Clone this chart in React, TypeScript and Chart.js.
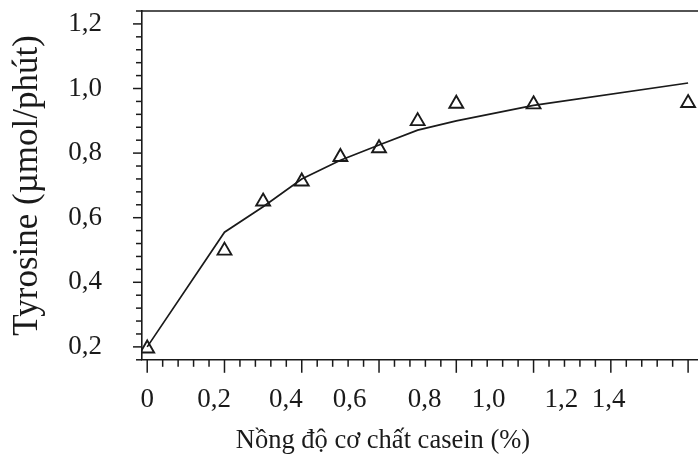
import React, { useEffect, useRef } from 'react';
import { Chart, registerables } from 'chart.js';

Chart.register(...registerables);

// ---- data ----
const concentration = [0, 0.2, 0.3, 0.4, 0.5, 0.6, 0.7, 0.8, 1.0, 1.4];
const measuredTyrosine = [0.195, 0.498, 0.65, 0.712, 0.788, 0.815, 0.899, 0.953, 0.951, 0.955];
const fittedTyrosine = [0.2, 0.555, 0.634, 0.72, 0.778, 0.825, 0.871, 0.9, 0.948, 1.017];

const yTickValues = [0.2, 0.4, 0.6, 0.8, 1.0, 1.2];
const yTickLabels = ['0,2', '0,4', '0,6', '0,8', '1,0', '1,2'];
const xTickLabels = ['0', '0,2', '0,4', '0,6', '0,8', '1,0', '1,2', '1,4'];
const xTickLabelPositions = [0, 0.173, 0.359, 0.524, 0.718, 0.884, 1.072, 1.194];

const xTitle = 'Nồng độ cơ chất casein (%)';
const yTitle = 'Tyrosine (µmol/phút)';

const X_MIN = -0.0135;
const X_MAX = 1.576;
const Y_MIN = 0.16;
const Y_MAX = 1.24;
const MINOR_STEP = 0.04;
const MAJOR_STEP = 0.2;

const INK = '#1a1a1a';
const FONT = "'Liberation Serif', 'Times New Roman', serif";

const frameTicks = {
  id: 'frameTicks',
  afterDraw(chart: any) {
    const { ctx, chartArea, scales } = chart;
    const x = scales.x;
    const y = scales.y;
    ctx.save();
    ctx.strokeStyle = INK;
    ctx.lineWidth = 1.6;
    ctx.beginPath();
    ctx.moveTo(chartArea.left - 1, chartArea.top);
    ctx.lineTo(chartArea.right, chartArea.top);
    ctx.stroke();
    ctx.lineWidth = 1.5;
    const isMajor = (v: number) => Math.abs(v / MAJOR_STEP - Math.round(v / MAJOR_STEP)) < 1e-6;
    const nY = Math.round((Y_MAX - Y_MIN) / MINOR_STEP);
    for (let i = 0; i <= nY; i++) {
      const v = Y_MIN + i * MINOR_STEP;
      const py = y.getPixelForValue(v);
      const len = isMajor(v) ? 9 : 6;
      ctx.beginPath();
      ctx.moveTo(chartArea.left - len, py);
      ctx.lineTo(chartArea.left, py);
      ctx.stroke();
    }
    const nX = Math.floor((X_MAX - 0) / MINOR_STEP);
    for (let i = 0; i <= nX; i++) {
      const v = i * MINOR_STEP;
      const px = x.getPixelForValue(v);
      const len = isMajor(v) ? 13 : 7;
      ctx.beginPath();
      ctx.moveTo(px, chartArea.bottom);
      ctx.lineTo(px, chartArea.bottom + len);
      ctx.stroke();
    }
    ctx.restore();
  },
};

export default function App() {
  const canvasRef = useRef<HTMLCanvasElement | null>(null);

  useEffect(() => {
    const canvas = canvasRef.current;
    if (!canvas) return;
    const chart = new Chart(canvas, {
      type: 'scatter',
      data: {
        datasets: [
          {
            type: 'line',
            label: 'fit',
            data: concentration.map((c, i) => ({ x: c, y: fittedTyrosine[i] })),
            borderColor: INK,
            borderWidth: 1.7,
            pointRadius: 0,
            tension: 0,
            fill: false,
          },
          {
            type: 'scatter',
            label: 'measured',
            data: concentration.map((c, i) => ({ x: c, y: measuredTyrosine[i] })),
            pointStyle: 'triangle',
            pointRadius: 8,
            pointBorderWidth: 1.9,
            pointBorderColor: INK,
            pointBackgroundColor: 'rgba(0,0,0,0)',
            borderColor: INK,
            backgroundColor: 'rgba(0,0,0,0)',
          },
        ],
      },
      options: {
        animation: false,
        responsive: false,
        devicePixelRatio: 1,
        layout: { padding: { top: 11, left: 0, right: 0, bottom: 0 } },
        plugins: {
          legend: { display: false },
          tooltip: { enabled: false },
          title: {
            display: true,
            position: 'bottom',
            text: xTitle,
            color: INK,
            font: { family: FONT, size: 26.5, weight: 'normal' },
            padding: { top: 0, bottom: 5 },
          },
        },
        scales: {
          x: {
            type: 'linear',
            min: X_MIN,
            max: X_MAX,
            grid: { display: false, drawTicks: false },
            border: { display: true, color: INK, width: 1.6 },
            afterBuildTicks: (scale: any) => {
              scale.ticks = xTickLabelPositions.map((v) => ({ value: v }));
            },
            afterFit: (scale: any) => {
              scale.height = 65.4;
              scale.paddingLeft = 0;
              scale.paddingRight = 0;
            },
            ticks: {
              autoSkip: false,
              maxRotation: 0,
              minRotation: 0,
              padding: 23.8,
              color: INK,
              font: { family: FONT, size: 27 },
              callback: (_v: any, i: number) => xTickLabels[i],
            },
          },
          y: {
            type: 'linear',
            min: Y_MIN,
            max: Y_MAX,
            grid: { display: false, drawTicks: false },
            border: { display: true, color: INK, width: 1.6 },
            afterBuildTicks: (scale: any) => {
              scale.ticks = yTickValues.map((v) => ({ value: v }));
            },
            afterFit: (scale: any) => {
              scale.width = 142;
              scale.paddingTop = 0;
              scale.paddingBottom = 0;
            },
            ticks: {
              autoSkip: false,
              padding: 40,
              color: INK,
              font: { family: FONT, size: 27 },
              callback: (_v: any, i: number) => yTickLabels[i],
            },
            title: {
              display: true,
              text: yTitle,
              color: INK,
              font: { family: FONT, size: 35 },
              padding: { top: 7, bottom: 0 },
            },
          },
        },
      },
      plugins: [frameTicks],
    });
    return () => chart.destroy();
  }, []);

  return (
    <div
      style={{
        position: 'absolute',
        left: 0,
        top: 0,
        width: 698,
        height: 462,
        overflow: 'hidden',
        background: '#fff',
      }}
    >
      <canvas
        ref={canvasRef}
        width={766}
        height={462}
        style={{ width: 766, height: 462, display: 'block' }}
      />
    </div>
  );
}
